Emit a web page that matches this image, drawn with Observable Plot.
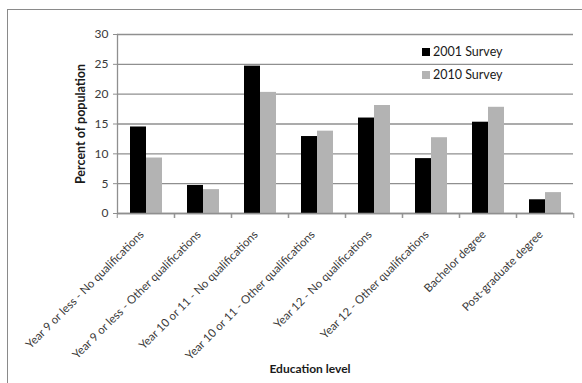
<!DOCTYPE html>
<html><head><meta charset="utf-8">
<script src="https://cdn.jsdelivr.net/npm/d3@7"></script>
<script src="https://cdn.jsdelivr.net/npm/@observablehq/plot@0.6"></script>
<style>
html,body{margin:0;padding:0;background:#fff;}
#wrap{position:relative;width:582px;height:383px;overflow:hidden;font-family:Lato,"Open Sans",sans-serif;}
#frame{position:absolute;left:7px;top:9px;width:620px;height:420px;border-top:1.5px solid #8a8a8a;border-left:1.5px solid #8a8a8a;}
#chart{position:absolute;left:0;top:0;}
.legend{position:absolute;left:422px;top:40px;font-size:12.5px;color:#1a1a1a;line-height:23px;}
.legend span.sw{display:inline-block;width:8px;height:8px;margin-right:3px;vertical-align:0px;}
.ylab{position:absolute;left:80px;top:124px;transform:translate(-50%,-50%) rotate(-90deg);font-weight:bold;font-size:12.5px;color:#1a1a1a;white-space:nowrap;}
.xlab{position:absolute;left:310px;top:368px;transform:translate(-50%,-50%);font-weight:bold;font-size:12px;color:#1a1a1a;white-space:nowrap;}
</style></head><body>
<div id="wrap"><div id="frame"></div><div id="chart"></div>
<div class="legend" id="legend"></div>
<div class="ylab" id="ylab"></div><div class="xlab" id="xlab"></div></div>
<script>
const categories = [
  "Year 9 or less - No qualifications",
  "Year 9 or less - Other qualifications",
  "Year 10 or 11 - No qualifications",
  "Year 10 or 11 - Other qualifications",
  "Year 12 - No qualifications",
  "Year 12 - Other qualifications",
  "Bachelor degree",
  "Post-graduate degree"
];
const seriesNames = ["2001 Survey", "2010 Survey"];
const survey2001 = [14.5, 4.7, 24.7, 12.9, 16.0, 9.2, 15.3, 2.3];
const survey2010 = [9.3, 4.0, 20.3, 13.8, 18.1, 12.7, 17.8, 3.5];
const yTicks = [0, 5, 10, 15, 20, 25, 30];
const seriesColors = ["#000000", "#b3b3b3"];
const yLabel = "Percent of population";
const xLabel = "Education level";

const data = categories.flatMap((c, i) => [
  {cat: c, survey: seriesNames[0], value: survey2001[i]},
  {cat: c, survey: seriesNames[1], value: survey2010[i]}
]);

const W = 582, H = 383, mL = 115, mR = 7, mT = 34, mB = 170;
const bw = (W - mL - mR) / categories.length;
const gridColor = "#8f8f8f";

const plot = Plot.plot({
  width: W, height: H,
  marginLeft: mL, marginRight: mR, marginTop: mT, marginBottom: mB,
  style: {fontFamily: "Lato, 'Open Sans', sans-serif", background: "transparent", color: "#3a3a3a"},
  fx: {domain: categories, padding: 0, label: null, axis: null},
  x: {domain: seriesNames, paddingInner: 0, paddingOuter: 0.74, axis: null},
  y: {domain: [0, 30], label: null},
  color: {domain: seriesNames, range: seriesColors},
  marks: [
    Plot.gridY(yTicks, {stroke: gridColor, strokeOpacity: 1, strokeWidth: 1.3}),
    Plot.barY(data, {fx: "cat", x: "survey", y: "value", fill: "survey"}),
    Plot.ruleY([0], {stroke: gridColor, strokeWidth: 1.3}),
    Plot.frame({anchor: "left", facetAnchor: "left", stroke: gridColor, strokeWidth: 1.3}),
    Plot.axisY(yTicks, {tickSize: 4, tickPadding: 5, fontSize: 12, label: null, stroke: gridColor}),
    Plot.axisFx({anchor: "bottom", tickSize: 0, tickRotate: -45, tickPadding: 19, dx: -4, fontSize: 11.5, label: null}),
    Plot.axisFx({anchor: "bottom", tickSize: 5, tickFormat: () => "", label: null, dx: -bw / 2, stroke: gridColor}),
    Plot.axisFx([categories[categories.length - 1]], {anchor: "bottom", tickSize: 5, tickFormat: () => "", label: null, dx: bw / 2, stroke: gridColor})
  ]
});
document.getElementById("chart").appendChild(plot);

document.getElementById("legend").innerHTML = seriesNames.map((s, i) =>
  `<div><span class="sw" style="background:${seriesColors[i]}"></span>${s}</div>`).join("");
document.getElementById("ylab").textContent = yLabel;
document.getElementById("xlab").textContent = xLabel;
</script>
</body></html>
